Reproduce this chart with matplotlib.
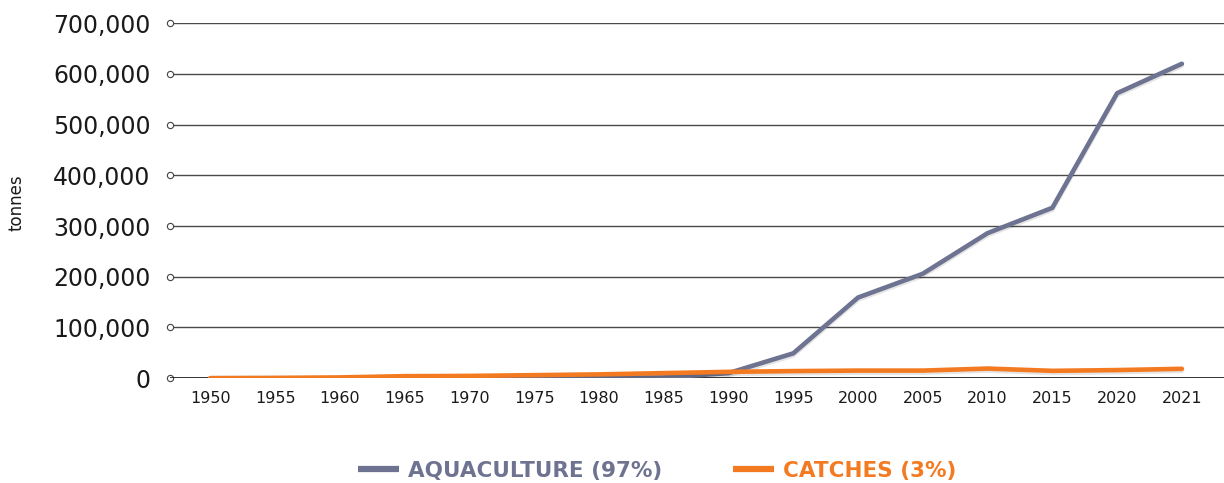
import matplotlib
matplotlib.use("Agg")
import matplotlib.pyplot as plt
import matplotlib.patheffects as pe
from matplotlib.ticker import FuncFormatter

# Production by source, tonnes
years = ["1950", "1955", "1960", "1965", "1970", "1975", "1980", "1985",
         "1990", "1995", "2000", "2005", "2010", "2015", "2020", "2021"]
aquaculture = [0, 0, 0, 0, 0, 200, 500, 1500,
               10000, 49000, 159000, 206000, 286000, 336000, 562000, 620000]
catches = [0, 500, 1500, 4000, 4500, 6000, 7500, 10000,
           12500, 14000, 15000, 15000, 19000, 14500, 16000, 18500]
series_labels = ["AQUACULTURE (97%)", "CATCHES (3%)"]
y_ticks = [0, 100000, 200000, 300000, 400000, 500000, 600000, 700000]

AQUA_COLOR = "#6d7390"
CATCH_COLOR = "#f37a21"

fig = plt.figure(figsize=(12.24, 4.83), dpi=100)
ax = fig.add_axes([0.139, 0.217, 0.861, 0.735])

x = list(range(len(years)))
shadow = [pe.SimpleLineShadow(offset=(0, -1.5), shadow_color="#000000", alpha=0.10),
          pe.Normal()]
ax.plot(x, aquaculture, color=AQUA_COLOR, lw=3.3, solid_capstyle="round",
        solid_joinstyle="round", path_effects=shadow, zorder=3,
        label=series_labels[0])
ax.plot(x, catches, color=CATCH_COLOR, lw=3.3, solid_capstyle="round",
        solid_joinstyle="round", path_effects=shadow, zorder=4,
        label=series_labels[1])

ax.set_xlim(-0.62, len(years) - 1 + 0.65)
ax.set_ylim(0, 700000)
ax.set_xticks(x)
ax.set_xticklabels(years)
ax.set_yticks(y_ticks)
ax.yaxis.set_major_formatter(FuncFormatter(lambda v, p: f"{int(v):,}"))

for s in ax.spines.values():
    s.set_visible(False)

ax.grid(axis="y", color="#4a4a4a", lw=1.0, zorder=1)
ax.grid(axis="x", visible=False)
ax.axhline(0, color="#1a1a1a", lw=1.2, zorder=2)

ax.tick_params(axis="x", length=0, pad=9, labelsize=11.5, colors="#1a1a1a")
ax.tick_params(axis="y", length=5, width=0.8, pad=9, labelsize=17,
               colors="#1a1a1a", color="#444444")

# small open circles where each gridline begins
for t in ax.yaxis.get_major_ticks():
    t.tick1line.set_marker("o")
    t.tick1line.set_markersize(4.5)
    t.tick1line.set_markerfacecolor("white")
    t.tick1line.set_markeredgecolor("#444444")
    t.tick1line.set_markeredgewidth(0.8)

fig.text(17 / 1224, 1 - 203 / 483, "tonnes", rotation=90, ha="center",
         va="center", fontsize=12, color="#1a1a1a")

leg = fig.legend(loc="center", bbox_to_anchor=(0.537, 0.025), ncol=2,
                 frameon=False, handlelength=1.9, handletextpad=0.4,
                 columnspacing=3.3, prop={"weight": "bold", "size": 15.5})
for line in leg.get_lines():
    line.set_linewidth(4.5)
    line.set_path_effects([])
    line.set_solid_capstyle("butt")
for txt, col in zip(leg.get_texts(), [AQUA_COLOR, CATCH_COLOR]):
    txt.set_color(col)

fig.savefig("out.png", dpi=100)
